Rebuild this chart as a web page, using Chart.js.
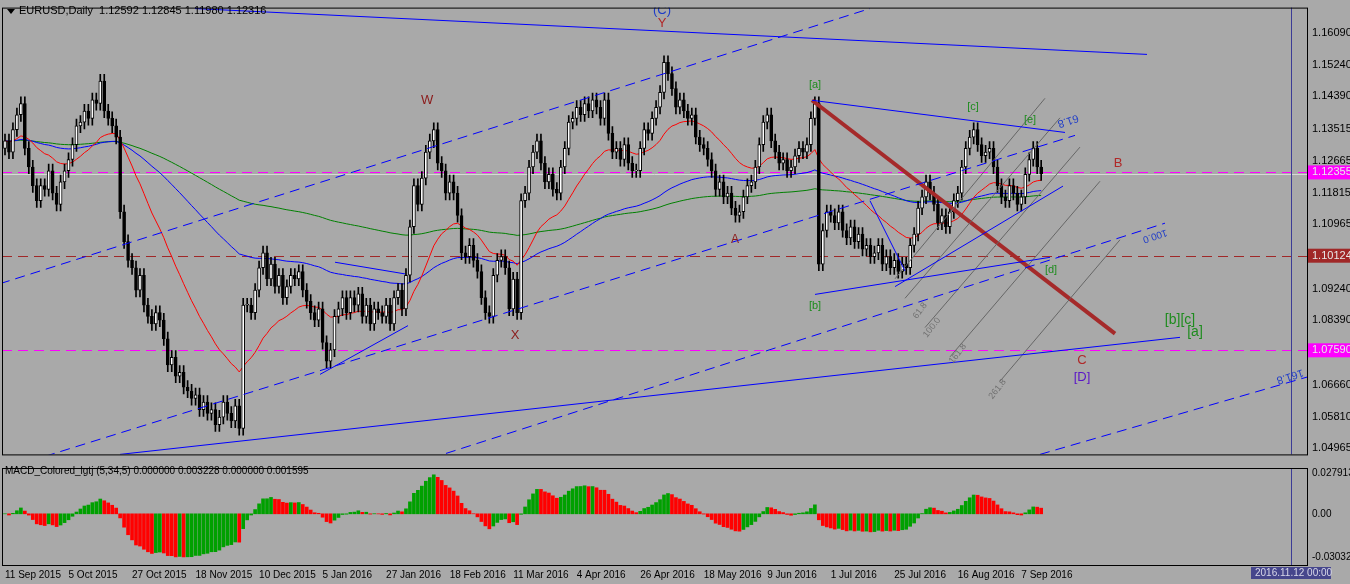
<!DOCTYPE html>
<html>
<head>
<meta charset="utf-8">
<script src="https://cdn.jsdelivr.net/npm/chart.js@4.4.1/dist/chart.umd.min.js"></script>
<style>
  html, body { margin: 0; padding: 0; background: #a9a9a9; }
  #wrap { position: relative; width: 1350px; height: 584px; overflow: hidden; background: #a9a9a9; }
  #main { position: absolute; left: 0; top: 0; }
  #macd { position: absolute; left: 0; top: 461px; }
</style>
</head>
<body>
<div id="wrap">
  <canvas id="main" width="1350" height="462"></canvas>
  <canvas id="macd" width="1350" height="123"></canvas>
</div>
<script>
// daily closes, 11 Sep 2015 .. 9 Sep 2016
const closes = [
  1.1320,1.1290,1.1350,1.1390,1.1420,1.1300,1.1250,1.1200,1.1160,
  1.1200,1.1190,1.1240,1.1180,1.1150,1.1210,1.1240,
  1.1270,1.1310,1.1360,1.1370,1.1400,1.1380,1.1430,1.1420,1.1480,
  1.1400,1.1380,1.1360,1.1330,1.1130,1.1050,1.1000,1.0980,1.0920,
  1.0960,1.0880,1.0850,1.0830,1.0860,1.0840,1.0790,1.0720,1.0740,1.0690,1.0700,1.0660,1.0650,1.0630,1.0640,
  1.0600,1.0620,1.0590,1.0600,1.0560,1.0580,1.0620,1.0590,1.0570,1.0610,1.0550,
  1.0880,1.0880,1.0860,1.0920,1.0980,1.1020,1.0950,1.0990,1.0930,1.0960,1.0900,
  1.0930,1.0960,1.0950,1.0970,1.0920,1.0890,1.0860,1.0840,1.0870,1.0780,1.0730,
  1.0760,1.0850,1.0870,1.0900,1.0860,1.0900,1.0880,1.0910,1.0850,1.0880,1.0830,1.0870,1.0860,1.0850,
  1.0880,1.0830,1.0900,1.0920,1.0870,1.0960,1.1090,1.1200,
  1.1150,1.1220,1.1290,1.1320,1.1350,1.1260,1.1240,1.1180,1.1210,1.1180,
  1.1120,1.1020,1.1010,1.1040,1.1000,1.0970,1.0900,1.0860,1.0850,
  1.0960,1.1000,1.1010,1.0980,1.0870,1.0950,1.0860,
  1.1160,1.1180,1.1250,1.1290,1.1320,1.1260,1.1210,1.1230,1.1190,1.1180,
  1.1250,1.1300,1.1370,1.1380,1.1410,1.1390,1.1420,1.1400,1.1430,1.1410,1.1380,1.1430,1.1340,1.1290,
  1.1300,1.1270,1.1310,1.1260,1.1240,1.1240,1.1300,1.1350,1.1340,1.1380,1.1410,1.1450,
  1.1530,1.1500,1.1460,1.1410,1.1430,1.1400,1.1380,1.1390,1.1330,1.1310,1.1300,1.1270,1.1240,
  1.1190,1.1210,1.1170,1.1180,1.1140,1.1120,1.1130,1.1170,1.1200,1.1210,1.1250,1.1310,1.1370,1.1390,
  1.1320,1.1290,1.1260,1.1270,1.1240,1.1250,1.1280,1.1300,1.1290,1.1310,1.1380,1.1420,1.0990,
  1.1080,1.1130,1.1120,1.1100,1.1130,1.1080,1.1060,1.1090,1.1050,1.1070,1.1030,1.1040,1.1010,1.1020,1.1040,1.0990,1.1010,1.0980,1.1000,1.0970,1.0990,1.0980,
  1.1040,1.1070,1.1140,1.1170,1.1210,1.1180,1.1150,1.1100,1.1120,1.1090,1.1130,1.1160,1.1180,1.1250,1.1300,1.1330,1.1350,
  1.1310,1.1280,1.1290,1.1300,1.1250,1.1200,1.1170,1.1160,1.1200,1.1180,1.1150,1.1170,1.1230,1.1270,1.1300,1.1250,1.1232
];
const firstOpen = 1.1300;
const wickTail = 0.0018;

const dateLabels = ['11 Sep 2015','5 Oct 2015','27 Oct 2015','18 Nov 2015','10 Dec 2015','5 Jan 2016',
  '27 Jan 2016','18 Feb 2016','11 Mar 2016','4 Apr 2016','26 Apr 2016','18 May 2016','9 Jun 2016',
  '1 Jul 2016','25 Jul 2016','16 Aug 2016','7 Sep 2016'];
const labelStep = 16;

const priceTicks = [1.16090,1.15240,1.14390,1.13515,1.12665,1.11815,1.10965,1.09240,1.08390,1.06660,1.05810,1.04965];
const macdTicks = [0.027913, 0, -0.030326];

// horizontal levels: [price, colour]
const levels = [[1.12355,'#ff00ff'],[1.10124,'#a02828'],[1.07590,'#ff00ff']];
const bidPrice = 1.1232;

// trendlines in [barIndex, price] pairs
const trendlines = [
  {p:[[47.86,1.16743],[287.66,1.15515]], c:'#0000ff', d:[]},
  {p:[[-1.26,1.09375],[217.88,1.16743]], c:'#0000ff', d:[10,6]},
  {p:[[10.08,1.04750],[269.52,1.13346]], c:'#0000ff', d:[10,6]},
  {p:[[111.08,1.04828],[292.19,1.10995]], c:'#0000ff', d:[10,6]},
  {p:[[28.97,1.04802],[295.97,1.07937]], c:'#0000ff', d:[]},
  {p:[[260.71,1.04802],[338.79,1.07206]], c:'#0000ff', d:[10,6]},
  {p:[[79.35,1.06945],[101.51,1.08251]], c:'#0000ff', d:[]},
  {p:[[83.12,1.09949],[100.76,1.09636]], c:'#0000ff', d:[]},
  {p:[[203.27,1.14287],[267.00,1.13425]], c:'#0000ff', d:[]},
  {p:[[204.03,1.09087],[263.22,1.10080]], c:'#0000ff', d:[]},
  {p:[[224.18,1.09296],[266.50,1.11988]], c:'#0000ff', d:[]},
  {p:[[217.88,1.11596],[226.70,1.09714]], c:'#0000ff', d:[]},
  {p:[[224.18,1.09505],[261.96,1.14339]], c:'#666666', d:[]},
  {p:[[226.70,1.08983],[265.74,1.13817]], c:'#666666', d:[]},
  {p:[[231.74,1.08199],[270.78,1.13033]], c:'#666666', d:[]},
  {p:[[238.04,1.07415],[275.82,1.12118]], c:'#666666', d:[]},
  {p:[[250.63,1.06762],[280.86,1.10550]], c:'#666666', d:[]},
  {p:[[203.27,1.14287],[279.60,1.08035]], c:'#a52a2a', d:[], w:4}
];

// wave labels: [text, barIndex, price, colour, size, rotationDeg]
const waveLabels = [
  ['(C)',165.49,1.16691,'#1e3cc8',13,0],
  ['Y',165.49,1.16351,'#b02828',13,0],
  ['W',106.30,1.14287,'#8b1a1a',13,0],
  ['X',128.46,1.07990,'#8b1a1a',13,0],
  ['A',183.88,1.10550,'#8b1a1a',12,0],
  ['B',280.35,1.12589,'#b02828',13,0],
  ['C',271.28,1.07310,'#b02828',13,0],
  ['[D]',271.28,1.06866,'#5a14c8',13,0],
  ['[a]',204.03,1.14705,'#1e8c1e',11,0],
  ['[b]',204.03,1.08774,'#1e8c1e',11,0],
  ['[c]',243.83,1.14104,'#1e8c1e',11,0],
  ['[e]',258.19,1.13764,'#1e8c1e',11,0],
  ['[d]',263.48,1.09740,'#1e8c1e',11,0],
  ['[b][c]',295.97,1.08408,'#1e8c1e',14,0],
  ['[a]',299.75,1.08068,'#1e8c1e',14,0],
  ['61.8',267.76,1.13738,'#1e3cc8',11,162],
  ['100.0',289.67,1.10655,'#1e3cc8',10,162],
  ['161.8',323.68,1.06892,'#1e3cc8',11,162],
  ['61.8',230.5,1.08650,'#707070',9,-52],
  ['100.0',233.5,1.08200,'#707070',9,-52],
  ['161.8',240.0,1.07500,'#707070',9,-52],
  ['261.8',250.0,1.06550,'#707070',9,-52]
];
const cursorBar = 323.9;

const X_MIN = -0.756, X_MAX = 327.96;
const FONT = '"Liberation Sans", Arial, sans-serif';

function ema(src, n) {
  const k = 2 / (n + 1); let out = [], v = src[0];
  src.forEach((s, i) => { v = i ? s * k + v * (1 - k) : s; out.push(v); });
  return out;
}

const opens = closes.map((c, i) => i ? closes[i - 1] : firstOpen);
const idx = closes.map((_, i) => i);
const bodies = idx.map(i => ({x: i, y: [opens[i], closes[i] === opens[i] ? closes[i] + 0.0002 : closes[i]]}));
const wicks = idx.map(i => ({x: i, y: [Math.min(opens[i], closes[i]) - wickTail, Math.max(opens[i], closes[i]) + wickTail]}));
const maRed = ema(closes, 24), maBlue = ema(closes, 90), maGreen = ema(closes, 200);
const e5 = ema(closes, 5), e34 = ema(closes, 34);
const macd = closes.map((_, i) => e5[i] - e34[i]);

const frame = {
  id: 'frame',
  beforeDatasetsDraw(chart) {
    const {ctx, chartArea: a, scales} = chart;
    if (chart.canvas.id !== 'main') return;
    ctx.save();
    ctx.lineWidth = 1;
    levels.forEach(([p, c]) => {
      const y = Math.round(scales.y.getPixelForValue(p)) + 0.5;
      ctx.strokeStyle = c; ctx.setLineDash([10, 6]);
      ctx.beginPath(); ctx.moveTo(a.left, y); ctx.lineTo(a.right, y); ctx.stroke();
    });
    ctx.setLineDash([]);
    const yb = Math.round(scales.y.getPixelForValue(bidPrice)) + 0.5;
    ctx.strokeStyle = '#d8d8d8';
    ctx.beginPath(); ctx.moveTo(a.left, yb); ctx.lineTo(a.right, yb); ctx.stroke();
    const xc = Math.round(scales.x.getPixelForValue(cursorBar)) + 0.5;
    ctx.strokeStyle = '#3c3c96';
    ctx.beginPath(); ctx.moveTo(xc, a.top); ctx.lineTo(xc, a.bottom); ctx.stroke();
    ctx.restore();
  },
  afterDatasetsDraw(chart) {
    const {ctx, chartArea: a, scales} = chart;
    ctx.save();
    if (chart.canvas.id === 'main') {
      ctx.beginPath(); ctx.rect(a.left, a.top, a.right - a.left, a.bottom - a.top); ctx.clip();
      waveLabels.forEach(([t, b, p, c, s, r]) => {
        const x = scales.x.getPixelForValue(b), y = scales.y.getPixelForValue(p);
        ctx.save(); ctx.translate(x, y); ctx.rotate(r * Math.PI / 180);
        ctx.fillStyle = c; ctx.font = s + 'px ' + FONT; ctx.textAlign = 'center'; ctx.textBaseline = 'middle';
        ctx.fillText(t, 0, 0); ctx.restore();
      });
      ctx.restore(); ctx.save();
      ctx.font = '11px ' + FONT; ctx.fillStyle = '#000'; ctx.textBaseline = 'middle';
      ctx.beginPath(); ctx.moveTo(7, 9); ctx.lineTo(15, 9); ctx.lineTo(11, 14); ctx.closePath(); ctx.fill();
      ctx.fillText('EURUSD,Daily  1.12592 1.12845 1.11980 1.12316', 19, 11);
      levels.forEach(([p, c]) => {
        const y = scales.y.getPixelForValue(p);
        ctx.fillStyle = c; ctx.fillRect(a.right + 1, y - 7, 42, 14);
        ctx.fillStyle = '#e8e8e8'; ctx.font = '11px ' + FONT;
        ctx.fillText(p.toFixed(5), a.right + 5, y);
      });
    } else {
      ctx.font = '10px ' + FONT; ctx.fillStyle = '#000'; ctx.textBaseline = 'middle';
      ctx.fillText('MACD_Colored_lgtj (5,34,5) 0.000000 0.003228 0.000000 0.001595', 5, 10);
      ctx.fillStyle = '#46468c'; ctx.fillRect(1251, 106, 80, 12);
      ctx.fillStyle = '#d8d8e8'; ctx.fillText('2016.11.12 00:00', 1255, 112);
      const xc = Math.round(scales.x.getPixelForValue(cursorBar)) + 0.5;
      ctx.strokeStyle = '#3c3c96'; ctx.lineWidth = 1;
      ctx.beginPath(); ctx.moveTo(xc, a.top); ctx.lineTo(xc, a.bottom); ctx.stroke();
    }
    ctx.restore();
    ctx.save();
    ctx.strokeStyle = '#000'; ctx.lineWidth = 1;
    ctx.strokeRect(a.left + 0.5, a.top + 0.5, a.right - a.left, a.bottom - a.top);
    ctx.restore();
  }
};

function yAxis(ticks, fmt, min, max, size) {
  return {
    position: 'right', min, max,
    afterBuildTicks: s => { s.ticks = ticks.map(v => ({value: v})); },
    afterFit: s => { s.width = 43; },
    grid: {display: false, drawTicks: true, tickLength: 4, tickColor: '#000'},
    border: {display: false},
    ticks: {color: '#000', font: {family: FONT, size}, padding: 1, callback: fmt}
  };
}

const lineSets = trendlines.map(l => ({
  type: 'line', data: l.p.map(q => ({x: q[0], y: q[1]})), borderColor: l.c,
  borderWidth: l.w || 1, borderDash: l.d, pointRadius: 0, order: 1, clip: 0, tension: 0
}));
const maSet = (d, c) => ({type: 'line', data: idx.map(i => ({x: i, y: d[i]})), borderColor: c,
  borderWidth: 1, pointRadius: 0, order: 6, tension: 0});

new Chart(document.getElementById('main'), {
  type: 'bar',
  data: {datasets: [
    ...lineSets,
    {data: bodies, barThickness: 3, grouped: false, order: 3, borderWidth: 1, borderColor: '#000', borderSkipped: false,
     backgroundColor: idx.map(i => closes[i] >= opens[i] ? '#ffffff' : '#000000')},
    {data: wicks, barThickness: 1, grouped: false, order: 4, backgroundColor: '#000'},
    maSet(maRed, '#ff0000'), maSet(maBlue, '#0000ff'), maSet(maGreen, '#008000')
  ]},
  options: {
    responsive: false, animation: false, events: [],
    layout: {padding: {left: 2, top: 2, bottom: 2, right: 0}},
    plugins: {legend: {display: false}, tooltip: {enabled: false}},
    scales: {
      x: {type: 'linear', offset: false, min: X_MIN, max: X_MAX, display: false},
      y: yAxis(priceTicks, v => v.toFixed(5), 1.04802, 1.16769, 11)
    }
  },
  plugins: [frame]
});

new Chart(document.getElementById('macd'), {
  type: 'bar',
  data: {datasets: [{
    data: idx.map(i => ({x: i, y: macd[i]})), barThickness: 3,
    backgroundColor: idx.map(i => i && macd[i] < macd[i - 1] ? '#ff0000' : '#00a000')
  }]},
  options: {
    responsive: false, animation: false, events: [],
    layout: {padding: {left: 2, top: 2, bottom: 0, right: 0}},
    plugins: {legend: {display: false}, tooltip: {enabled: false}},
    scales: {
      x: {type: 'linear', offset: false, min: X_MIN, max: X_MAX,
        afterBuildTicks: s => { s.ticks = dateLabels.map((_, k) => ({value: k * labelStep})); },
        afterFit: s => { s.height = 19; },
        grid: {display: false, drawTicks: true, tickLength: 3, tickColor: '#000'}, border: {display: false},
        ticks: {color: '#000', align: 'start', maxRotation: 0, autoSkip: false, padding: 1,
          font: {family: FONT, size: 10}, callback: v => dateLabels[Math.round(v / labelStep)]}},
      y: yAxis(macdTicks, v => v === 0 ? '0.00' : v.toFixed(6), -0.03562, 0.03188, 10)
    }
  },
  plugins: [frame]
});
</script>
</body>
</html>
